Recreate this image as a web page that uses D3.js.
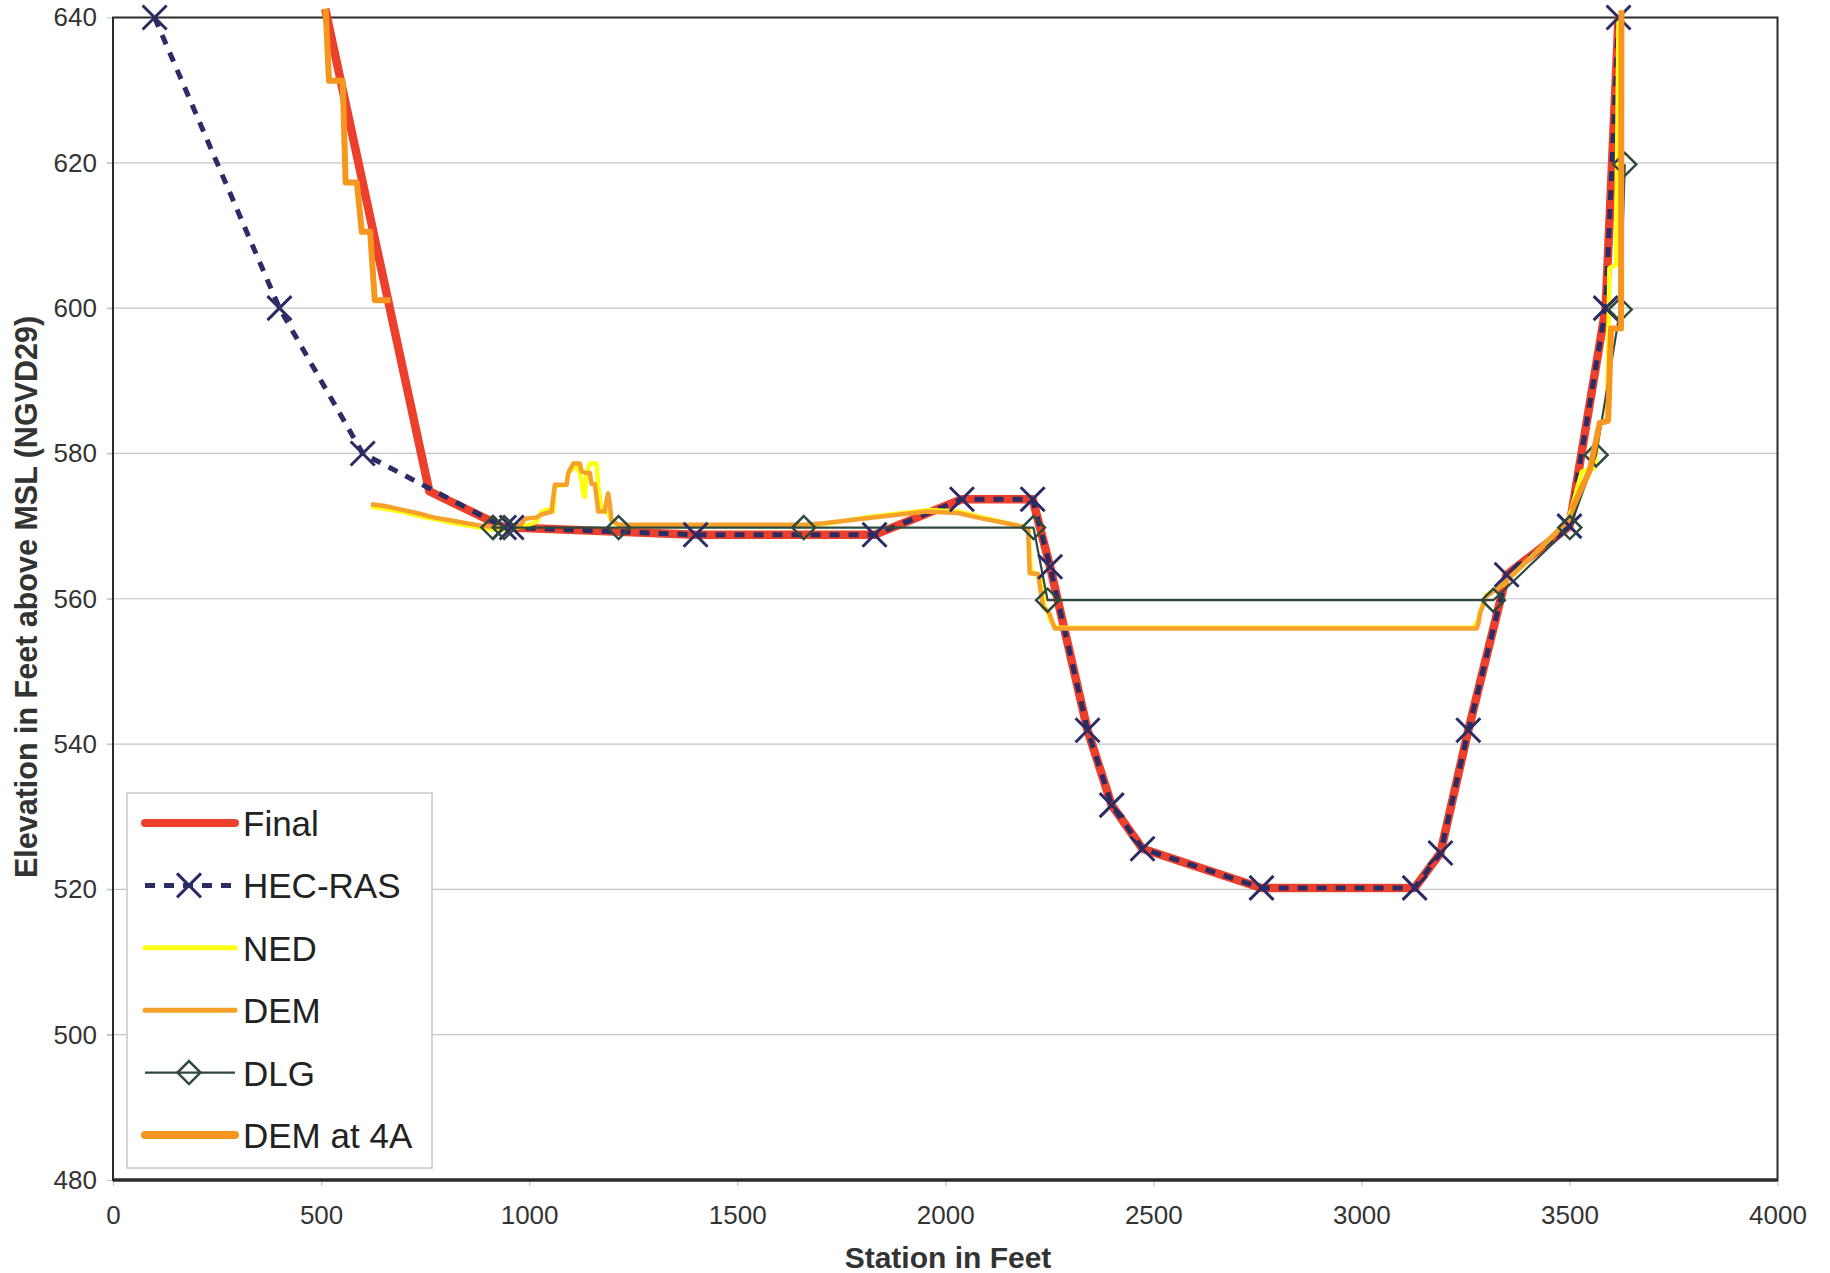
<!DOCTYPE html>
<html>
<head>
<meta charset="utf-8">
<script src="https://cdn.jsdelivr.net/npm/d3@7"></script>
<style>
  body { margin: 0; background: #fff; }
  svg { display: block; font-family: "Liberation Sans", Arial, sans-serif; }
</style>
</head>
<body>
<script>
const width = 1830;
const height = 1273;
const margin = { left: 113, right: 52.5, top: 17.5, bottom: 93 };

// data: station (ft), elevation (ft)
const finalData = [
    [510, 641.2], [760, 574.8], [940, 569.8], [958, 569.8], [1400, 568.8], [1830, 568.8],
    [2040, 573.7], [2210, 573.7], [2252, 564.4], [2342, 541.9], [2400, 531.6], [2474, 525.6],
    [2760, 520.2], [3128, 520.2], [3190, 525], [3257, 541.9], [3349, 563.3], [3500, 570],
    [3587, 600], [3618, 640]
];
const hecRasData = [
    [100, 640], [400, 600], [600, 580], [940, 569.8], [958, 569.8], [1400, 568.8], [1830, 568.8],
    [2040, 573.7], [2210, 573.7], [2252, 564.4], [2342, 541.9], [2400, 531.6], [2474, 525.6],
    [2760, 520.2], [3128, 520.2], [3190, 525], [3257, 541.9], [3349, 563.3], [3500, 570],
    [3587, 600], [3618, 640]
];
const nedData = [
    [620, 572.7], [650, 572.4], [700, 571.9], [740, 571.3], [780, 570.9], [820, 570.4],
    [860, 570.0], [900, 569.6], [940, 569.5], [990, 570], [1018, 570.6], [1030, 572],
    [1046, 572.3], [1058, 572], [1062, 575.5], [1090, 575.7], [1094, 577.3], [1114, 578.3],
    [1122, 577.3], [1126, 576.2], [1130, 574.5], [1134, 574], [1138, 577.3], [1146, 578.6],
    [1162, 578.6], [1166, 575.5], [1174, 572.3], [1190, 571.8], [1198, 570.8], [1215, 570],
    [1660, 570], [1710, 570.3], [1820, 571.3], [1960, 572.2], [2030, 572], [2090, 571.2],
    [2180, 570], [2200, 569.5], [2206, 564], [2215, 563.4], [2230, 563], [2238, 559],
    [2246, 558.4], [2252, 557], [2268, 556], [3270, 556], [3280, 557], [3290, 559],
    [3300, 560.5], [3342, 562], [3384, 564.4], [3449, 568], [3497, 570.8], [3530, 577.5],
    [3560, 578], [3572, 584], [3590, 584.5], [3594, 597], [3596, 605.5], [3612, 606], [3618, 640]
];
const demData = [
    [620, 573], [650, 572.8], [690, 572.3], [730, 571.8], [770, 571.2], [810, 570.8],
    [850, 570.4], [890, 570], [930, 569.8], [978, 570], [990, 571], [1018, 571.2],
    [1030, 571.6], [1054, 572], [1058, 574], [1062, 575.7], [1090, 575.7], [1094, 577.3],
    [1106, 578.6], [1122, 578.6], [1126, 577.5], [1138, 577.3], [1146, 577.3], [1150, 575.8],
    [1158, 575.8], [1162, 574], [1166, 572], [1182, 572], [1186, 573.5], [1190, 574.5],
    [1194, 573], [1198, 570.8], [1215, 570.2], [1660, 570.2], [1708, 570.4], [1816, 571.1],
    [1955, 572], [2030, 571.8], [2084, 571.1], [2181, 570], [2199, 569.5], [2203, 563.5],
    [2223, 563.4], [2235, 558.9], [2250, 558], [2263, 555.9], [3277, 555.9], [3282, 556.8],
    [3285, 558], [3292, 559], [3300, 560.3], [3342, 562.1], [3384, 564.4], [3449, 568.1],
    [3497, 570.8], [3510, 572.5], [3549, 577.7], [3573, 584.2], [3593, 584.5]
];
const dlgData = [
    [913, 569.8], [940, 569.8], [1215, 569.8], [1660, 569.8], [2212, 569.8], [2246, 559.8],
    [3317, 559.8], [3501, 569.8], [3564, 579.8], [3622, 599.8], [3633, 619.8]
];
// DEM at 4A: two separate bank pieces (null = gap)
const dem4aData = [
    [511, 641.2], [519, 631.3], [552, 631.3], [559, 617.3], [586, 617.3], [598, 610.5],
    [618, 610.5], [629, 601.1], [667, 601.1], null,
    [3505, 572.2], [3549, 577.7], [3573, 584.2], [3593, 584.5], [3600, 597.2], [3624, 597.2],
    [3625, 641]
];

const xTicks = [0, 500, 1000, 1500, 2000, 2500, 3000, 3500, 4000];
const yTicks = [480, 500, 520, 540, 560, 580, 600, 620, 640];
const legendNames = ["Final", "HEC-RAS", "NED", "DEM", "DLG", "DEM at 4A"];

const color = {
    final: "#ec402c",
    hec: "#2b2b66",
    ned: "#ffff14",
    dem: "#f5a12c",
    dlg: "#2f4a3c",
    dem4a: "#f7961e",
    grid: "#c4c4cc",
    axis: "#2a2a2a"
};

let svg = d3.select("body").append("svg")
    .attr("width", width)
    .attr("height", height);

let x = d3.scaleLinear().domain([0, 4000]).range([margin.left, width - margin.right]);
let y = d3.scaleLinear().domain([480, 640]).range([height - margin.bottom, margin.top]);

// gridlines
svg.append("g")
    .selectAll("line")
    .data(yTicks.slice(1, -1))
    .enter()
    .append("line")
    .attr("x1", x(0) - 6)
    .attr("x2", x(4000))
    .attr("y1", d => y(d))
    .attr("y2", d => y(d))
    .attr("stroke", color.grid)
    .attr("stroke-width", 1.2);

// axes
let yAxis = svg.append("g")
    .attr("transform", "translate(" + x(0) + ",0)")
    .call(d3.axisLeft(y).tickValues(yTicks).tickSize(6).tickPadding(10).tickFormat(d3.format("d")));
let xAxis = svg.append("g")
    .attr("transform", "translate(0," + y(480) + ")")
    .call(d3.axisBottom(x).tickValues(xTicks).tickSize(6).tickPadding(20).tickFormat(d3.format("d")));

[yAxis, xAxis].forEach(a => {
    a.select(".domain").remove();
    a.selectAll(".tick line").attr("stroke", color.grid).attr("stroke-width", 1.2);
    a.selectAll(".tick text")
        .attr("font-family", "Liberation Sans, Arial, sans-serif")
        .attr("font-size", 26)
        .attr("fill", "#333");
});

// plot border
svg.append("rect")
    .attr("x", x(0))
    .attr("y", y(640))
    .attr("width", x(4000) - x(0))
    .attr("height", y(480) - y(640))
    .attr("fill", "none")
    .attr("stroke", color.axis)
    .attr("stroke-width", 2);
svg.append("line")
    .attr("x1", x(0)).attr("x2", x(4000))
    .attr("y1", y(480)).attr("y2", y(480))
    .attr("stroke", color.axis)
    .attr("stroke-width", 3.5);

// titles
svg.append("text")
    .attr("x", 948)
    .attr("y", 1268)
    .attr("text-anchor", "middle")
    .attr("font-size", 30)
    .attr("font-weight", "bold")
    .attr("fill", "#333")
    .text("Station in Feet");
svg.append("text")
    .attr("transform", "translate(37,597) rotate(-90)")
    .attr("text-anchor", "middle")
    .attr("font-size", 30.5)
    .attr("font-weight", "bold")
    .attr("fill", "#333")
    .text("Elevation in Feet above MSL (NGVD29)");

let line = d3.line()
    .defined(d => d !== null)
    .x(d => x(d[0]))
    .y(d => y(d[1]));

let lines = svg.append("g").attr("fill", "none").attr("stroke-linejoin", "round");

function xMark(g, size, stroke) {
    let h = size / 2;
    g.append("path")
        .attr("d", "M" + -h + "," + -h + "L" + h + "," + h + "M" + -h + "," + h + "L" + h + "," + -h)
        .attr("stroke", color.hec)
        .attr("stroke-width", stroke)
        .attr("fill", "none");
}
function diamond(g, size) {
    let h = size / 2;
    g.append("path")
        .attr("d", "M0," + -h + "L" + h + ",0L0," + h + "L" + -h + ",0Z")
        .attr("stroke", color.dlg)
        .attr("stroke-width", 2.5)
        .attr("fill", "none");
}

// Final
lines.append("path").datum(finalData)
    .attr("d", line).attr("stroke", color.final).attr("stroke-width", 8.5);

// HEC-RAS
lines.append("path").datum(hecRasData)
    .attr("d", line).attr("stroke", color.hec).attr("stroke-width", 5)
    .attr("stroke-dasharray", "10,9");
svg.append("g").selectAll("g")
    .data(hecRasData)
    .enter()
    .append("g")
    .attr("transform", d => "translate(" + x(d[0]) + "," + y(d[1]) + ")")
    .each(function () { xMark(d3.select(this), 24, 3); });

// NED
lines.append("path").datum(nedData)
    .attr("d", line).attr("stroke", color.ned).attr("stroke-width", 4.5);

// DEM
lines.append("path").datum(demData)
    .attr("d", line).attr("stroke", color.dem).attr("stroke-width", 4.5);

// DLG
lines.append("path").datum(dlgData)
    .attr("d", line).attr("stroke", color.dlg).attr("stroke-width", 2.2);
svg.append("g").selectAll("g")
    .data(dlgData)
    .enter()
    .append("g")
    .attr("transform", d => "translate(" + x(d[0]) + "," + y(d[1]) + ")")
    .each(function () { diamond(d3.select(this), 23); });

// DEM at 4A
svg.append("path").datum(dem4aData)
    .attr("d", line).attr("fill", "none").attr("stroke", color.dem4a)
    .attr("stroke-width", 6).attr("stroke-linejoin", "round");

// legend
let legend = svg.append("g");
legend.append("rect")
    .attr("x", 127)
    .attr("y", 793)
    .attr("width", 305)
    .attr("height", 375)
    .attr("fill", "#fff")
    .attr("stroke", "#c8c8c8")
    .attr("stroke-width", 1.5);

let legendStyles = [
    { stroke: color.final, width: 8 },
    { stroke: color.hec, width: 5, dash: "10,9" },
    { stroke: color.ned, width: 5 },
    { stroke: color.dem, width: 5 },
    { stroke: color.dlg, width: 2.2 },
    { stroke: color.dem4a, width: 8 }
];

legendNames.forEach(function (name, i) {
    let ly = 823 + i * 62.4;
    let s = legendStyles[i];
    legend.append("line")
        .attr("x1", 145).attr("x2", 235)
        .attr("y1", ly).attr("y2", ly)
        .attr("stroke", s.stroke)
        .attr("stroke-width", s.width)
        .attr("stroke-linecap", i === 1 || i === 4 ? "butt" : "round")
        .attr("stroke-dasharray", s.dash || null);
    if (i === 1) {
        xMark(legend.append("g").attr("transform", "translate(189," + ly + ")"), 24, 3);
    }
    if (i === 4) {
        diamond(legend.append("g").attr("transform", "translate(189," + ly + ")"), 23);
    }
    legend.append("text")
        .attr("x", 243)
        .attr("y", ly + 13)
        .attr("font-size", 35)
        .attr("fill", "#222")
        .text(name);
});
</script>
</body>
</html>
